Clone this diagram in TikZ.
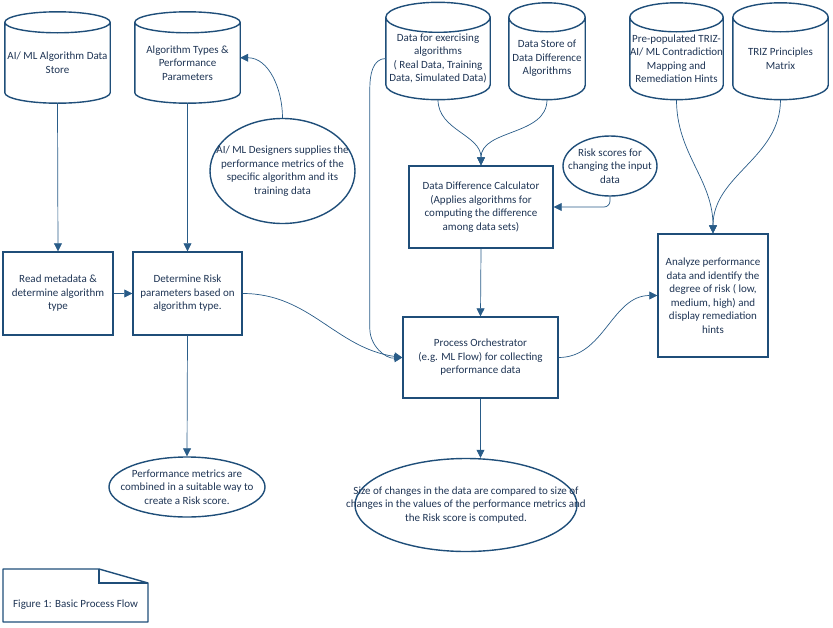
\documentclass[tikz,border=0pt]{standalone}
\usepackage{fontspec}
\setmainfont{Carlito}
\usepackage{tikz}
\usetikzlibrary{arrows.meta,shapes.geometric,positioning,calc}

% outline of a data store drawn round a named node: #1 node, #2 cap radius
\newcommand{\drumoutline}[2]{%
  \draw[boxblue, line width=1.4pt]
    let \p1=($(#1.north east)-(#1.north west)$) in
    (#1.north) ellipse[x radius=0.5*\x1, y radius=#2pt]
    (#1.north west) -- ($(#1.south west)+(0,#2)$)
    arc[start angle=180, end angle=360, x radius=0.5*\x1, y radius=#2pt]
    -- (#1.north east);
}

\begin{document}
\begin{tikzpicture}[
  x=1pt, y=1pt,
  >={Triangle[length=8pt,width=8pt]},
  font=\fontsize{11}{13.5}\selectfont,
  box/.style={draw=boxblue, line width=1.4pt, text=inkblue, align=center, inner sep=0pt},
  drum/.style={text=inkblue, align=center, inner sep=0pt},
  oval/.style={ellipse, draw=boxblue, line width=1.4pt, inner sep=0pt},
  ovaltext/.style={text=inkblue, align=center},
  link/.style={->, draw=linkblue, line width=0.7pt}
]
  \definecolor{boxblue}{RGB}{31,78,121}
  \definecolor{linkblue}{RGB}{41,92,136}
  \definecolor{inkblue}{RGB}{30,52,84}

  \useasboundingbox (0,0) rectangle (833,-627);

  % Data stores along the top
  \node[drum, minimum width=105, minimum height=80.5] (algstore) at (57.5,-62.75)
    {AI/ ML Algorithm Data\\Store};
  \node[drum, minimum width=105, minimum height=80.5] (algtypes) at (187.5,-62.75)
    {Algorithm Types \&\\Performance\\Parameters};
  \node[drum, minimum width=104, minimum height=82] (exdata) at (438,-58.5)
    {Data for exercising\\algorithms\\( Real Data, Training\\Data, Simulated Data)};
  \node[drum, minimum width=76, minimum height=82] (diffalg) at (547,-58.5)
    {Data Store of\\Data Difference\\Algorithms};
  \node[drum, minimum width=93, minimum height=82] (trizmap) at (676.5,-58.5)
    {Pre-populated TRIZ-\\AI/ ML Contradiction\\Mapping and\\Remediation Hints};
  \node[drum, minimum width=95, minimum height=82] (trizmat) at (780.5,-58.5)
    {TRIZ Principles\\Matrix};
  \foreach \s/\r in {algstore/10.5, algtypes/10.5, exdata/15, diffalg/14.5, trizmap/14.5, trizmat/14.5}
    \drumoutline{\s}{\r};

  % Process boxes
  \node[box, minimum width=110, minimum height=83] (readmeta) at (58,-293.5)
    {Read metadata \&\\determine algorithm\\type};
  \node[box, minimum width=109, minimum height=83] (riskpar) at (187.5,-293.5)
    {Determine Risk\\parameters based on\\algorithm type.};
  \node[box, minimum width=144, minimum height=82] (diffcalc) at (481,-207)
    {Data Difference Calculator\\(Applies algorithms for\\computing the difference\\among data sets)};
  \node[box, minimum width=155, minimum height=81] (orch) at (480.5,-357.5)
    {Process Orchestrator\\(e.g. ML Flow) for collecting\\performance data};
  \node[box, minimum width=110, minimum height=123] (analyze) at (713,-295.5)
    {Analyze performance\\data and identify the\\degree of risk ( low,\\medium, high) and\\display remediation\\hints};

  % Ovals
  \node[oval, minimum width=145, minimum height=105, label={[ovaltext]center:{AI/ ML Designers supplies the\\performance metrics of the\\specific algorithm and its\\training data}}]
    (designers) at (282.5,-171) {};
  \node[oval, minimum width=94, minimum height=60, label={[ovaltext]center:{Risk scores for\\changing the input\\data}}]
    (riskin) at (610,-166) {};
  \node[oval, minimum width=156, minimum height=60, label={[ovaltext]center:{Performance metrics are\\combined in a suitable way to\\create a Risk score.}}]
    (combine) at (187,-487) {};
  \node[oval, minimum width=222, minimum height=93, label={[ovaltext]center:{Size of changes in the data are compared to size of\\changes in the values of the performance metrics and\\the Risk score is computed.}}]
    (sizecmp) at (466,-505) {};

  % Figure note with folded corner
  \node[text=inkblue, anchor=west, inner sep=0pt] (caption) at (13,-605) {Figure 1: Basic Process Flow};
  \draw[boxblue, line width=1.4pt, line join=round]
    (3,-569) -- (99,-569) -- (148,-583) -- (148,-622) -- (3,-622) -- cycle;
  \draw[boxblue, line width=1.4pt] (99,-569) -- (99,-583) -- (148,-583);

  % Connectors
  \draw[link] (algstore.south) -- (readmeta.north);
  \draw[link] (algtypes.south) -- (riskpar.north);
  \draw[link] (readmeta.east) -- (riskpar.west);
  \draw[link] (designers.north) to[out=90,in=0] ([yshift=5]algtypes.east);
  \draw[link] (riskpar.east) to[out=0,in=172] (orch.west);
  \draw[link] (exdata.west) to[out=180,in=90] ++(-16,-30) -- ++(0,-240)
    to[out=-90,in=185] (orch.west);
  \draw[link] (exdata.south) to[out=-90,in=90] (diffcalc.north);
  \draw[link] (diffalg.south) to[out=-90,in=90] (diffcalc.north);
  \draw[link, rounded corners=6] (riskin.south) |- (diffcalc.east);
  \draw[link] (diffcalc.south) -- (orch.north);
  \draw[link] (orch.east) to[out=0,in=180] (analyze.west);
  \draw[link] (trizmap.south) to[out=-90,in=90] (analyze.north);
  \draw[link] (trizmat.south) to[out=-90,in=90] (analyze.north);
  \draw[link] (riskpar.south) -- (combine.north);
  \draw[link] (orch.south) -- (orch.south |- sizecmp.north);
\end{tikzpicture}
\end{document}
